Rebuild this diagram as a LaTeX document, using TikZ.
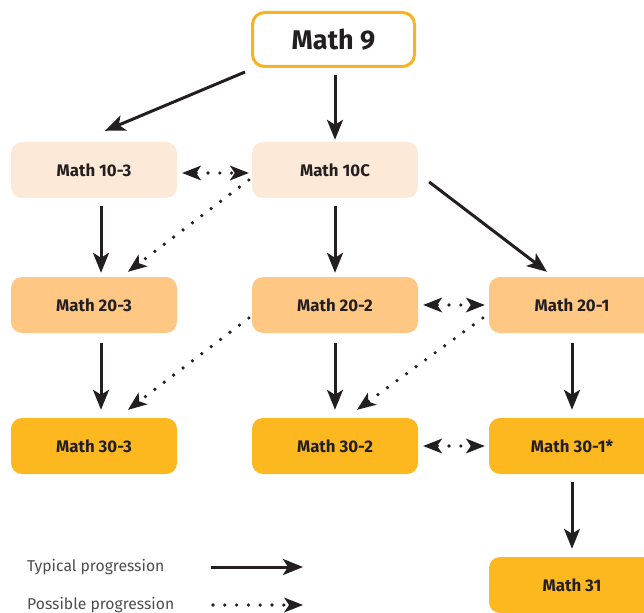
\documentclass[tikz,border=0pt]{standalone}
\usepackage{fontspec}
\setmainfont{Fira Sans}
\usetikzlibrary{positioning,arrows.meta}
\definecolor{paleorange}{HTML}{FDE9D7}
\definecolor{midorange}{HTML}{FEC884}
\definecolor{deeporange}{HTML}{FDB71F}
\definecolor{rimorange}{HTML}{F9B320}
\definecolor{inkgray}{HTML}{231F20}
\definecolor{notegray}{HTML}{4D4D4D}

\begin{document}
\begin{tikzpicture}[x=1pt, y=-1pt,
                course/.style={rectangle, draw=none, rounded corners=11pt, minimum width=166pt, minimum height=56pt, text centered, text=inkgray, font=\bfseries\fontsize{16.8}{20}\selectfont},
                start/.style={rectangle, draw=rimorange, line width=3pt, fill=white, rounded corners=12pt, minimum width=162pt, minimum height=54pt, text centered, text=inkgray, font=\bfseries\fontsize{27}{32}\selectfont},
                typical/.style={draw=inkgray, line width=3pt, -{Stealth[length=20pt, width=16pt, inset=5pt]}},
                possible/.style={draw=inkgray, line width=3.6pt, line cap=round, dash pattern=on 0pt off 11.8pt, -{Stealth[length=19pt, width=15pt, inset=5pt, line width=0pt]}},
                both/.style={possible, {Stealth[length=19pt, width=15pt, inset=5pt, line width=0pt]}-{Stealth[length=19pt, width=15pt, inset=5pt, line width=0pt]}},
                legend/.style={inner sep=0pt, anchor=west, text=notegray, font=\fontsize{15.7}{18}\selectfont}
            ]
            \useasboundingbox (0,0) rectangle (644,612);
            \clip (0,0) rectangle (644,612);
            \node (Math09) [start] at (333.5,39.5) {Math 9};
            \node (Math103) [course, fill=paleorange] at (94,170) {Math 10-3};
            \node (Math10C) [course, fill=paleorange] at (335,170) {Math 10C};
            \node (Math203) [course, fill=midorange] at (94,305) {Math 20-3};
            \node (Math202) [course, fill=midorange] at (335,305) {Math 20-2};
            \node (Math201) [course, fill=midorange] at (572,305) {Math 20-1};
            \node (Math303) [course, fill=deeporange] at (94,446) {Math 30-3};
            \node (Math302) [course, fill=deeporange] at (335,446) {Math 30-2};
            \node (Math301) [course, fill=deeporange] at (572,446) {Math 30-1*};
            \node (Math31) [course, fill=deeporange] at (572,585) {Math 31};

            \draw [typical] ([shift={(-6,4)}]Math09.south west) -- ([shift={(11,-11)}]Math103.north);
            \draw [typical, shorten <=7pt, shorten >=2pt] (Math10C.north |- Math09.south) -- (Math10C.north);
            \draw [typical, shorten <=8pt, shorten >=4pt] ([xshift=7pt]Math103.south) -- ([xshift=7pt]Math203.north);
            \draw [typical, shorten <=8pt, shorten >=4pt] (Math10C.south) -- (Math202.north);
            \draw [typical] ([shift={(11,12)}]Math10C.east) -- ([shift={(-25,-5)}]Math201.north);
            \draw [typical, shorten <=10pt, shorten >=8pt] ([xshift=7pt]Math203.south) -- ([xshift=7pt]Math303.north);
            \draw [typical, shorten <=10pt, shorten >=8pt] (Math202.south) -- (Math302.north);
            \draw [typical, shorten <=10pt, shorten >=8pt] (Math201.south) -- (Math301.north);
            \draw [typical, shorten <=8pt, shorten >=8pt] (Math301.south) -- (Math31.north);

            \draw [possible] ([shift={(-3,10)}]Math10C.west) -- ([shift={(34,-5)}]Math203.north);
            \draw [possible] ([shift={(-3,13)}]Math202.west) -- ([shift={(34,-8)}]Math303.north);
            \draw [possible] ([shift={(-6,13)}]Math201.west) -- ([shift={(22,-8)}]Math302.north);
            \draw [both] ([shift={(5,3)}]Math103.east) -- ([shift={(-3,3)}]Math10C.west);
            \draw [both] ([xshift=5pt]Math202.east) -- ([xshift=-4pt]Math201.west);
            \draw [both] ([xshift=5pt]Math302.east) -- ([xshift=-4pt]Math301.west);

            \node (TypLabel) [legend] at (27,567) {Typical progression};
            \node (PosLabel) [legend] at (27,605) {Possible progression};
            \coordinate (TypStart) at (211,567);
            \coordinate (TypEnd) at (303,567);
            \coordinate (PosStart) at (213,605);
            \coordinate (PosEnd) at (303,605);
            \draw [typical] (TypStart) -- (TypEnd);
            \draw [possible] (PosStart) -- (PosEnd);
\end{tikzpicture}
\end{document}
